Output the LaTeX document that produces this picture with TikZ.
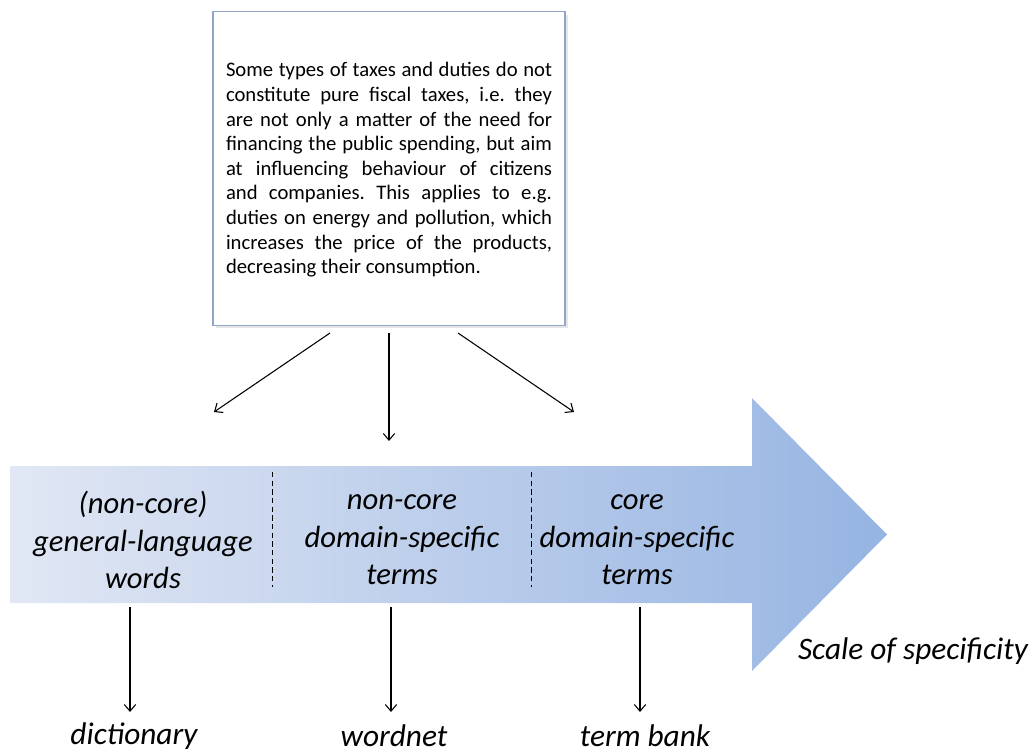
\documentclass[tikz,border=0pt]{standalone}
\usepackage{fontspec}
\setmainfont{Carlito}
\usepackage{tikz}
\usetikzlibrary{positioning, arrows.meta, shadows}
\definecolor{boxline}{RGB}{143,166,200}
\definecolor{scaleleft}{RGB}{225,231,244}
\definecolor{scaleright}{RGB}{150,180,226}
\tikzstyle{link} = [-{Straight Barb[length=5pt, width=8.5pt]}, line width=0.8pt]

\begin{document}
\begin{tikzpicture}[
    x=0.75pt, y=-0.75pt,
    passage/.style={draw=boxline, fill=white, line width=0.8pt, minimum width=264pt, minimum height=235pt,
      drop shadow={opacity=0.2, shadow xshift=2pt, shadow yshift=-2pt}},
    passagetext/.style={text width=244.5pt, align=justify, inner sep=0pt,
      font=\fontsize{15.5}{18.45}\selectfont},
    category/.style={align=center, font=\fontsize{23}{28.2}\selectfont\itshape},
    resource/.style={inner sep=0pt, font=\fontsize{23.5}{26}\selectfont\itshape}
  ]
  \useasboundingbox (0,0) rectangle (1032,753);

  % text passage
  \node[passage] (passage) at (389,168.5) {};
  \node[passagetext] (ptext) at (389,170) {\frenchspacing\tolerance=10000\hyphenpenalty=10000\exhyphenpenalty=10000
    Some types of taxes and duties do not\linebreak
    constitute pure fiscal taxes, i.e. they\linebreak
    are not only a matter of the need for\linebreak
    financing the public spending, but aim\linebreak
    at influencing behaviour of citizens\linebreak
    and companies. This applies to e.g.\linebreak
    duties on energy and pollution, which\linebreak
    increases the price of the products,\linebreak
    decreasing their consumption.};

  % scale arrow
  \path[left color=scaleleft, right color=scaleright]
    (10,466) -- (752,466) -- (752,398) -- (887,534.5) -- (752,671) -- (752,603) -- (10,603) -- cycle;
  \draw[dash pattern=on 4pt off 2.5pt, line width=0.7pt] (272,472) -- (272,587);
  \draw[dash pattern=on 4pt off 2.5pt, line width=0.7pt] (531,472) -- (531,587);

  \node[category] (general) at (143,540) {(non-core)\\general-language\\words};
  \node[category] (noncore) at (402,540) {non-core\\domain-specific\\terms};
  \node[category] (core) at (637,540) {core\\domain-specific\\terms};
  \node[resource] (scale) at (913,651) {Scale of specificity};

  % top arrows
  \coordinate (t1) at (330,333);
  \coordinate (t2) at (389,333);
  \coordinate (t3) at (458,333);
  \coordinate (h1) at (214,412);
  \coordinate (h2) at (389,441);
  \coordinate (h3) at (574,412);
  \draw[link] (t1) -- (h1);
  \draw[link] (t2) -- (h2);
  \draw[link] (t3) -- (h3);

  % bottom arrows
  \coordinate (b1) at (130,607);
  \coordinate (b2) at (391,607);
  \coordinate (b3) at (640,607);
  \coordinate (d1) at (130,712);
  \coordinate (d2) at (391,712);
  \coordinate (d3) at (640,712);
  \draw[link] (b1) -- (d1);
  \draw[link] (b2) -- (d2);
  \draw[link] (b3) -- (d3);

  \node[resource] (dictionary) at (134,736) {dictionary};
  \node[resource] (wordnet) at (394,736) {wordnet};
  \node[resource] (termbank) at (645,736) {term bank};

\end{tikzpicture}
\end{document}
